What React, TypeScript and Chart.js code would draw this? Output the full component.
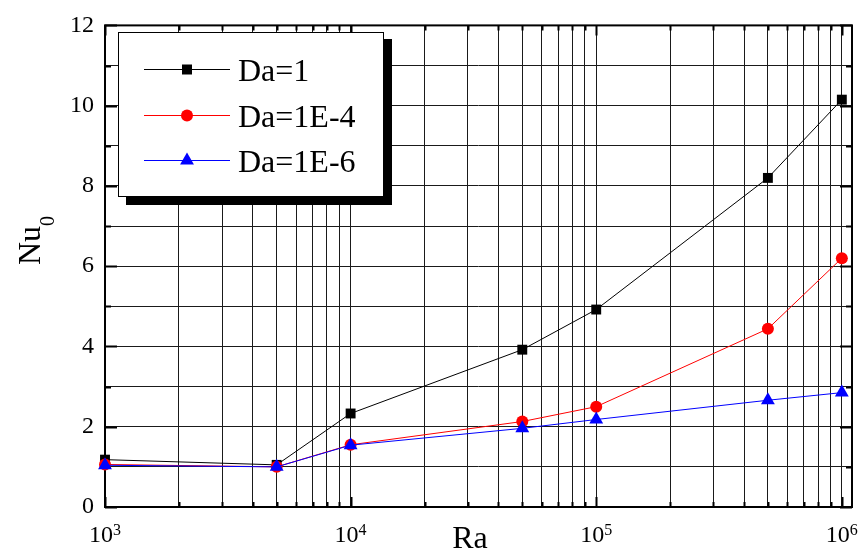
import React, { useEffect, useRef } from "react";
import { Chart, registerables } from "chart.js";

Chart.register(...registerables);

const RA = [1e3, 5e3, 1e4, 5e4, 1e5, 5e5, 1e6];
const NU_DA1 = [1.18, 1.05, 2.33, 3.92, 4.92, 8.2, 10.15];
const NU_DA1E4 = [1.06, 1.0, 1.55, 2.13, 2.5, 4.44, 6.2];
const NU_DA1E6 = [1.04, 1.0, 1.54, 1.96, 2.18, 2.66, 2.85];
const SERIES_LABELS = ["Da=1", "Da=1E-4", "Da=1E-6"];
const X_MAJOR = [1e3, 1e4, 1e5, 1e6];
const X_EXPONENTS = ["3", "4", "5", "6"];
const Y_TICKS = [0, 1, 2, 3, 4, 5, 6, 7, 8, 9, 10, 11, 12];
const X_TITLE = "Ra";
const Y_TITLE_MAIN = "Nu";
const Y_TITLE_SUB = "0";

const FONT = '"Liberation Serif", "Times New Roman", serif';

function xTickValues(): number[] {
  const out: number[] = [];
  for (let e = 3; e < 6; e++) {
    for (let k = 1; k <= 9; k++) out.push(k * Math.pow(10, e));
  }
  out.push(1e6);
  return out;
}

function drawMarker(ctx: CanvasRenderingContext2D, style: string, x: number, y: number, color: string) {
  ctx.fillStyle = color;
  ctx.beginPath();
  if (style === "rect") {
    ctx.rect(x - 5, y - 5, 10, 10);
  } else if (style === "circle") {
    ctx.arc(x, y, 6, 0, Math.PI * 2);
  } else {
    const r = 8;
    ctx.moveTo(x, y - r);
    ctx.lineTo(x + r * Math.sin((2 * Math.PI) / 3), y - r * Math.cos((2 * Math.PI) / 3));
    ctx.lineTo(x + r * Math.sin((4 * Math.PI) / 3), y - r * Math.cos((4 * Math.PI) / 3));
    ctx.closePath();
  }
  ctx.fill();
}

const decorPlugin = {
  id: "decor",
  beforeDatasetsDraw(chart: any) {
    const { ctx, chartArea: a, scales } = chart;
    const xs = scales.x;
    const ys = scales.y;
    ctx.save();
    ctx.strokeStyle = "#000";
    ctx.lineWidth = 2;
    ctx.beginPath();
    for (const v of xTickValues()) {
      const px = Math.round(xs.getPixelForValue(v)) + 0.5;
      const major = X_MAJOR.includes(v);
      const len = major ? 10 : 5;
      ctx.moveTo(px, a.bottom);
      ctx.lineTo(px, a.bottom - len);
      ctx.moveTo(px, a.top);
      ctx.lineTo(px, a.top + len);
    }
    for (const v of Y_TICKS) {
      const py = Math.round(ys.getPixelForValue(v)) + 0.5;
      const len = v % 2 === 0 ? 12 : 6;
      ctx.moveTo(a.left, py);
      ctx.lineTo(a.left + len, py);
      ctx.moveTo(a.right, py);
      ctx.lineTo(a.right - len, py);
    }
    ctx.stroke();
    ctx.lineWidth = 2;
    ctx.strokeRect(a.left, a.top, a.right - a.left, a.bottom - a.top);
    ctx.restore();
  },
  afterDatasetsDraw(chart: any) {
    const { ctx } = chart;
    ctx.save();
    ctx.fillStyle = "#000";
    ctx.fillRect(126, 39, 266, 166);
    ctx.fillStyle = "#fff";
    ctx.fillRect(118, 32, 266, 165);
    ctx.strokeStyle = "#000";
    ctx.lineWidth = 1;
    ctx.strokeRect(118.5, 32.5, 265, 164);
    const colors = ["#000000", "#ff0000", "#0000ff"];
    const styles = ["rect", "circle", "triangle"];
    const rows = [69, 115, 160];
    for (let i = 0; i < 3; i++) {
      const y = rows[i];
      ctx.strokeStyle = colors[i];
      ctx.lineWidth = 1;
      ctx.beginPath();
      ctx.moveTo(144, y + 0.5);
      ctx.lineTo(230, y + 0.5);
      ctx.stroke();
      drawMarker(ctx, styles[i], 187, y + 0.5, colors[i]);
      ctx.fillStyle = "#000";
      ctx.font = `32px ${FONT}`;
      ctx.textAlign = "left";
      ctx.textBaseline = "alphabetic";
      ctx.fillText(SERIES_LABELS[i], 238, y + 12);
    }
    ctx.restore();
  },
  afterDraw(chart: any) {
    const { ctx, scales } = chart;
    const xs = scales.x;
    ctx.save();
    ctx.fillStyle = "#000";
    ctx.textBaseline = "alphabetic";
    ctx.textAlign = "left";
    for (let i = 0; i < X_MAJOR.length; i++) {
      const px = xs.getPixelForValue(X_MAJOR[i]);
      ctx.font = `24px ${FONT}`;
      const w1 = ctx.measureText("10").width;
      ctx.font = `16px ${FONT}`;
      const w2 = ctx.measureText(X_EXPONENTS[i]).width;
      const start = px - (w1 + w2) / 2;
      ctx.font = `24px ${FONT}`;
      ctx.fillText("10", start, 542);
      ctx.font = `16px ${FONT}`;
      ctx.fillText(X_EXPONENTS[i], start + w1, 535);
    }
    ctx.font = `32px ${FONT}`;
    ctx.textAlign = "center";
    ctx.fillText(X_TITLE, 470, 548);
    ctx.translate(40, 265);
    ctx.rotate(-Math.PI / 2);
    ctx.textAlign = "left";
    ctx.font = `32px ${FONT}`;
    ctx.fillText(Y_TITLE_MAIN, 0, 0);
    const wn = ctx.measureText(Y_TITLE_MAIN).width;
    ctx.font = `20px ${FONT}`;
    ctx.fillText(Y_TITLE_SUB, wn, 14);
    ctx.restore();
  },
};

export default function App() {
  const ref = useRef<HTMLCanvasElement | null>(null);

  useEffect(() => {
    if (!ref.current) return;
    let chart: Chart | null = null;
    let cancelled = false;
    const mk = (ys: number[]) => RA.map((x, i) => ({ x, y: ys[i] }));
    const build = () => {
      if (cancelled || !ref.current) return;
      chart = new Chart(ref.current, {
        type: "line",
        data: {
          datasets: [
            {
              label: SERIES_LABELS[0],
              data: mk(NU_DA1),
              borderColor: "#000000",
              backgroundColor: "#000000",
              borderWidth: 1,
              pointStyle: "rect",
              pointRadius: 7,
              pointBorderWidth: 0,
              order: 2,
              clip: false,
            },
            {
              label: SERIES_LABELS[1],
              data: mk(NU_DA1E4),
              borderColor: "#ff0000",
              backgroundColor: "#ff0000",
              borderWidth: 1,
              pointStyle: "circle",
              pointRadius: 6,
              pointBorderWidth: 0,
              order: 1,
              clip: false,
            },
            {
              label: SERIES_LABELS[2],
              data: mk(NU_DA1E6),
              borderColor: "#0000ff",
              backgroundColor: "#0000ff",
              borderWidth: 1,
              pointStyle: "triangle",
              pointRadius: 8,
              pointBorderWidth: 0,
              order: 0,
              clip: false,
            },
          ],
        },
        options: {
          responsive: false,
          animation: false,
          events: [],
          layout: { padding: { left: 0, top: 20, right: 12, bottom: 0 } },
          plugins: { legend: { display: false }, tooltip: { enabled: false } },
          scales: {
            x: {
              type: "logarithmic",
              min: 1000,
              max: 1.1e6,
              afterBuildTicks: (scale: any) => {
                scale.ticks = xTickValues().map((v) => ({ value: v }));
              },
              afterFit: (scale: any) => {
                scale.height = 49;
              },
              ticks: { display: false },
              grid: { color: "#1a1a1a", lineWidth: 1, drawTicks: false },
              border: { display: false },
            },
            y: {
              type: "linear",
              min: 0,
              max: 12,
              afterFit: (scale: any) => {
                scale.width = 105;
              },
              ticks: {
                stepSize: 1,
                padding: 11,
                color: "#000",
                font: { family: FONT, size: 24 },
                callback: (v: any) => (Number(v) % 2 === 0 ? String(v) : ""),
              },
              grid: { color: "#1a1a1a", lineWidth: 1, drawTicks: false },
              border: { display: false },
            },
          },
        },
        plugins: [decorPlugin],
      });
    };
    const fonts: any = (document as any).fonts;
    if (fonts && fonts.load) {
      Promise.all([
        fonts.load(`24px "Liberation Serif"`),
        fonts.load(`32px "Liberation Serif"`),
      ])
        .catch(() => null)
        .then(build);
    } else {
      build();
    }
    return () => {
      cancelled = true;
      if (chart) chart.destroy();
    };
  }, []);

  return (
    <div style={{ position: "absolute", left: 0, top: 0, width: 864, height: 556, background: "#fff" }}>
      <canvas ref={ref} width={864} height={556} style={{ display: "block" }} />
    </div>
  );
}
